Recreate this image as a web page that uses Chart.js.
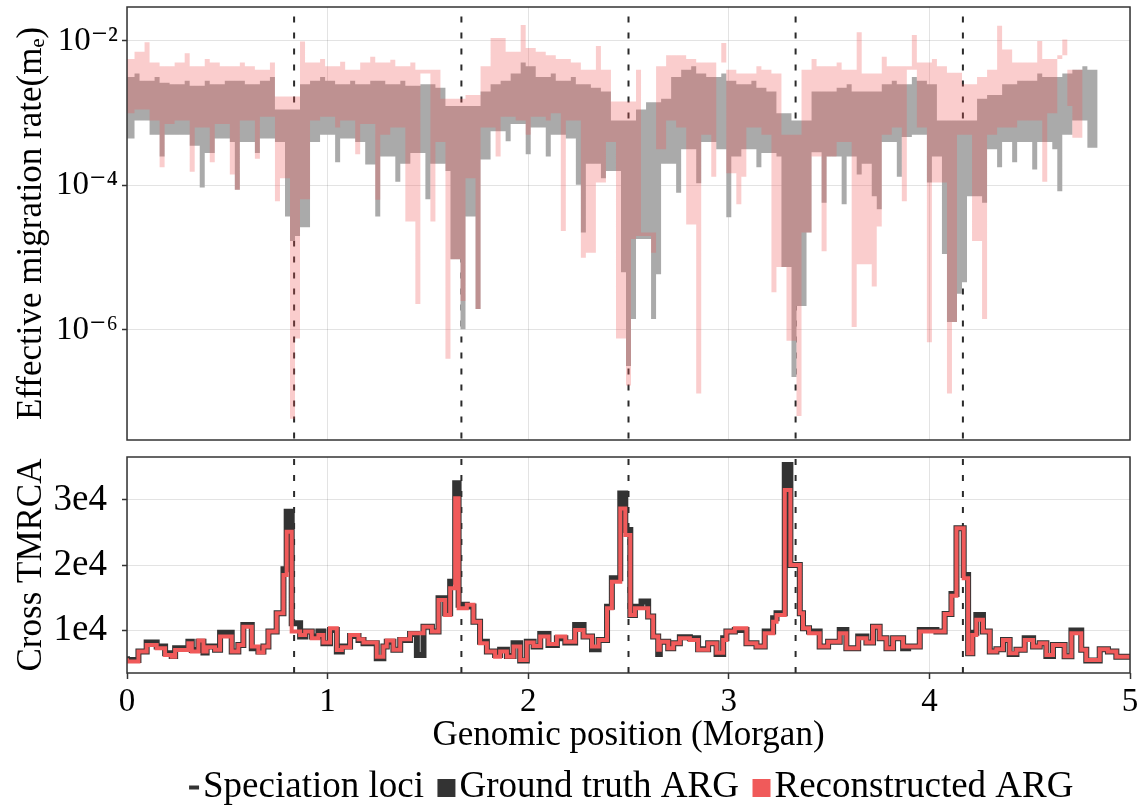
<!DOCTYPE html>
<html>
<head>
<meta charset="utf-8">
<script src="https://cdn.jsdelivr.net/npm/chart.js@4.4.1/dist/chart.umd.min.js"></script>
<style>
  html, body { margin: 0; padding: 0; background: #fff; overflow: hidden; }
  #wrap { position: relative; width: 1138px; height: 806px; }
  canvas { position: absolute; left: 0; }
  #top { top: 0; }
  #bottom { top: 445px; }
</style>
</head>
<body>
<div id="wrap">
  <canvas id="top" width="1138" height="445"></canvas>
  <canvas id="bottom" width="1138" height="371"></canvas>
</div>
<script>
// speciation loci (Morgan)
const loci = [0.833, 1.667, 2.5, 3.333, 4.167];

// effective migration rate, log10, one value every 0.025 Morgan starting at 0
const mStep = 0.025;
const truthLog10 = [
  -2.50,-3.35,-2.45,-3.10,-2.55,-3.30,-2.50,-3.60,-2.58,-3.30,
  -2.60,-3.30,-2.55,-3.45,-2.62,-4.03,-2.55,-3.55,-2.60,-3.35,
  -2.55,-3.40,-4.06,-2.55,-3.40,-2.60,-3.55,-2.55,-3.35,-2.50,
  -3.40,-2.95,-4.43,-4.77,-4.70,-2.60,-4.58,-2.55,-3.40,-2.50,
  -3.30,-2.55,-3.68,-2.60,-3.35,-2.55,-3.40,-2.60,-3.71,-2.55,
  -4.43,-2.55,-3.60,-2.60,-3.95,-2.55,-3.70,-2.62,-3.55,-2.60,
  -4.19,-2.60,-3.70,-2.65,-3.80,-5.02,-2.90,-5.99,-2.90,-4.43,
  -5.71,-2.70,-3.64,-2.60,-3.25,-2.55,-3.39,-2.45,-3.15,-2.30,
  -3.57,-2.35,-3.20,-2.50,-3.60,-2.45,-3.30,-2.55,-3.35,-2.50,
  -3.99,-4.65,-2.60,-3.70,-2.65,-3.90,-2.70,-3.80,-3.10,-5.20,
  -6.50,-5.85,-2.95,-4.74,-2.85,-5.85,-5.23,-2.80,-3.70,-2.50,
  -4.10,-2.40,-3.50,-2.35,-3.97,-2.45,-3.40,-2.50,-3.50,-2.45,
  -4.44,-2.55,-3.60,-2.60,-3.50,-2.55,-3.75,-2.65,-3.55,-2.70,
  -3.60,-5.13,-3.00,-6.65,-3.10,-5.67,-4.65,-2.70,-3.54,-4.24,
  -2.70,-3.60,-2.65,-4.26,-2.60,-3.60,-3.85,-2.70,-3.70,-4.15,
  -4.33,-2.60,-3.40,-2.55,-3.88,-2.60,-3.33,-2.50,-3.30,-2.55,
  -3.96,-2.60,-3.60,-4.95,-5.89,-5.89,-5.50,-5.34,-3.10,-4.15,
  -2.80,-4.24,-2.75,-3.50,-3.75,-2.60,-3.40,-3.68,-2.55,-3.40,
  -2.55,-3.78,-2.45,-3.40,-2.50,-3.50,-4.08,-2.45,-3.30,-2.40,
  -3.10,-2.35,-3.48,-2.40
];
const reconLog10 = [
  -2.25,-3.00,-2.15,-2.95,-2.02,-3.10,-2.30,-3.75,-2.35,-3.15,
  -2.30,-3.10,-2.17,-3.81,-2.35,-3.20,-2.25,-3.68,-2.30,-3.15,
  -2.35,-3.85,-4.06,-2.30,-3.10,-2.35,-3.63,-2.40,-3.05,-2.30,
  -4.22,-2.77,-3.90,-7.23,-6.12,-2.01,-4.19,-2.30,-3.10,-2.25,
  -3.05,-2.35,-3.20,-2.29,-3.10,-2.40,-3.57,-2.30,-3.15,-2.22,
  -4.20,-2.30,-3.30,-2.26,-3.20,-2.35,-4.50,-2.30,-5.64,-2.40,
  -2.45,-4.50,-2.40,-3.40,-6.40,-5.02,-2.80,-5.60,-2.75,-3.90,
  -5.71,-2.35,-3.20,-1.96,-3.60,-1.96,-3.05,-2.15,-3.10,-1.78,
  -3.30,-2.10,-3.05,-2.15,-3.10,-2.20,-3.00,-4.63,-2.25,-3.10,
  -2.30,-5.00,-2.40,-4.93,-2.07,-3.96,-2.40,-3.40,-6.12,-2.84,
  -6.77,-4.74,-2.40,-4.70,-4.65,-4.93,-2.35,-3.50,-2.20,-3.10,
  -3.20,-2.20,-4.54,-2.25,-6.88,-2.30,-3.30,-3.88,-2.30,-2.03,
  -3.83,-2.40,-4.26,-3.88,-2.45,-3.20,-2.35,-3.30,-2.40,-5.48,
  -2.45,-5.13,-6.15,-3.30,-7.19,-2.40,-4.65,-2.25,-3.60,-4.91,
  -2.35,-3.60,-2.30,-3.40,-2.40,-5.96,-1.88,-5.09,-2.45,-5.40,
  -4.57,-2.22,-3.30,-2.35,-3.20,-4.22,-2.40,-1.92,-3.20,-2.30,
  -6.17,-2.25,-3.96,-2.35,-6.88,-5.89,-2.44,-3.30,-2.60,-4.77,
  -2.50,-5.85,-2.40,-3.30,-1.79,-3.20,-2.12,-3.20,-2.30,-3.10,
  -2.30,-3.10,-2.00,-3.95,-2.25,-3.00,-2.20,-1.98,-2.90,-3.34,
  -2.40
];

// cross TMRCA: left edge of each step (Morgan) and the step values
const tmrcaEdges = [
  0.000,0.057,0.098,0.148,0.190,0.223,0.240,0.306,0.323,0.356,
  0.381,0.397,0.439,0.464,0.522,0.555,0.580,0.622,0.655,0.680,
  0.705,0.746,0.780,0.796,0.821,0.863,0.888,0.921,0.954,0.979,
  1.012,1.046,1.071,1.112,1.154,1.179,1.245,1.278,1.295,1.328,
  1.362,1.411,1.445,1.478,1.520,1.553,1.586,1.611,1.636,1.653,
  1.694,1.727,1.760,1.794,1.835,1.860,1.894,1.927,1.960,1.993,
  2.027,2.060,2.101,2.143,2.185,2.234,2.276,2.318,2.351,2.393,
  2.417,2.459,2.484,2.509,2.532,2.565,2.598,2.623,2.648,2.656,
  2.698,2.723,2.756,2.806,2.847,2.897,2.939,2.972,2.988,3.030,
  3.088,3.138,3.179,3.221,3.238,3.279,3.307,3.354,3.370,3.400,
  3.453,3.495,3.553,3.586,3.645,3.686,3.719,3.752,3.786,3.819,
  3.869,3.894,3.952,4.035,4.076,4.110,4.135,4.171,4.193,4.214,
  4.234,4.267,4.301,4.334,4.367,4.400,4.434,4.475,4.517,4.550,
  4.583,4.616,4.674,4.708,4.757,4.782,4.849,4.890,4.932,4.982
];
const tmrcaTruth = [
  6000,5450,6730,8110,7500,6470,6070,7240,8260,6990,
  8260,6580,7500,7000,9640,6730,7750,10800,7240,6730,
  7500,9800,12600,19350,28200,11070,9030,9800,9030,9800,
  8000,10050,6730,7500,9130,8520,8000,5700,7500,8260,
  7000,8520,9440,6200,10560,9800,14900,12600,17460,32540,
  13900,13650,11300,8260,6730,6220,7000,6070,8000,5350,
  8260,7500,9440,7750,8770,8110,10800,9030,7100,8520,
  13630,17970,31000,25380,12350,13630,14400,12100,9030,6370,
  8260,7240,8000,8930,8770,7090,8000,6370,8770,9800,
  10050,8000,7500,9800,11840,12600,35350,20000,12600,10300,
  9800,7500,8260,10050,7240,9030,8110,10560,8770,7240,
  8770,7240,7500,10050,9800,12500,15570,25640,18480,6470,
  9640,12350,9800,6730,7090,8520,6370,7000,8770,7500,
  8000,6070,7750,6000,9950,7000,5350,7090,6730,5960
];
const tmrcaRecon = [
  5700,5200,6730,7750,7240,6220,5960,6980,8000,6730,
  8420,6730,7400,7000,9030,6730,7750,10560,7500,6580,
  7500,9800,12600,18480,25100,9800,9290,9800,8770,9290,
  8110,10300,6990,7400,9290,8620,8110,5960,7500,8420,
  7000,8620,9540,9540,10560,9800,14640,12350,16440,30240,
  13380,13900,11300,8000,6730,5960,6730,5960,7500,5450,
  8110,7600,9030,7900,9030,8260,10050,9030,7500,8520,
  13380,17460,28700,24600,12350,13380,13380,12100,9030,7000,
  8260,7240,8000,8770,8520,7000,8000,6570,8520,9800,
  10300,8000,7500,9540,11300,12350,31500,20000,12600,10300,
  9540,7500,8260,9540,7240,8770,8110,10560,8770,7240,
  8770,7500,7500,9800,9800,12500,15300,25640,17970,6470,
  9290,11600,9800,6730,7090,8520,6470,7000,8520,7500,
  8000,6200,7750,6000,9540,7000,5450,7090,6730,5960
];

const rateTicks = [1e-6, 1e-4, 1e-2];
const rateRange = [Math.pow(10, -7.503), Math.pow(10, -1.531)];
const tmrcaTicks = [10000, 20000, 30000];
const tmrcaRange = [3450, 36580];
const posRange = [0, 5];

const FONT = "'Liberation Serif', 'DejaVu Serif', serif";
const GRID = 'rgba(0,0,0,0.11)';
const AXIS = '#333333';
const RED = '#f05a5a';

Chart.defaults.font.family = FONT;
Chart.defaults.color = '#000';

const sup = {'-': '\u207B', '0': '\u2070', '1': '\u00B9', '2': '\u00B2', '3': '\u00B3',
  '4': '\u2074', '5': '\u2075', '6': '\u2076', '7': '\u2077', '8': '\u2078', '9': '\u2079'};
const powerLabel = v => '10' + String(Math.round(Math.log10(v))).split('').map(c => sup[c]).join('');

// the rate series is very dense, so each sample is drawn as its own vertical stroke:
// a local peak reaches down to its higher neighbour, any other sample reaches up
// to the lower of the nearest peaks on either side (null gaps split the strokes)
function columnPoints(vals) {
  const n = vals.length;
  const peak = vals.map((v, i) => (i === 0 || v >= vals[i - 1]) && (i === n - 1 || v >= vals[i + 1]));
  const pts = [];
  vals.forEach((v, i) => {
    let lo, hi;
    if (peak[i]) {
      const nb = [vals[i - 1], vals[i + 1]].filter(x => x !== undefined);
      lo = Math.max(...nb); hi = v;
    } else {
      let l = i - 1; while (l >= 0 && !peak[l]) l--;
      let r = i + 1; while (r < n && !peak[r]) r++;
      const tops = [];
      if (l >= 0) tops.push(vals[l]);
      if (r < n) tops.push(vals[r]);
      lo = v; hi = Math.min(...tops);
    }
    const x = +(i * mStep).toFixed(4);
    pts.push({x: x, y: Math.pow(10, lo)}, {x: x, y: Math.pow(10, hi)}, {x: x, y: null});
  });
  return pts;
}
const stepPoints = vals => tmrcaEdges.map((x, i) => ({x: x, y: vals[i]}))
  .concat([{x: posRange[1], y: vals[vals.length - 1]}]);
const lociPoints = (lo, hi) => loci.flatMap(x => [{x: x, y: lo}, {x: x, y: hi}, {x: x, y: null}]);

// box around the plot area
const frame = {
  id: 'frame',
  afterDatasetsDraw(chart) {
    const {ctx, chartArea: a} = chart;
    ctx.save();
    ctx.strokeStyle = AXIS;
    ctx.lineWidth = 1.5;
    ctx.strokeRect(a.left, a.top, a.right - a.left, a.bottom - a.top);
    ctx.restore();
  }
};

function legendMark(color, w, h) {
  const c = document.createElement('canvas');
  c.width = 40; c.height = 18;
  const g = c.getContext('2d');
  g.fillStyle = color;
  g.fillRect(35 - w, (18 - h) / 2, w, h);
  return c;
}

const noPadY = s => { s.width = 127; s.paddingTop = 0; s.paddingBottom = 0; };

const lociStyle = {
  borderColor: '#2a2a2a', borderWidth: 2, borderDash: [6, 10],
  pointRadius: 0, spanGaps: false, order: 3
};

new Chart(document.getElementById('top'), {
  type: 'line',
  data: {
    datasets: [
      Object.assign({label: 'Speciation loci', data: lociPoints(rateRange[0], rateRange[1])}, lociStyle),
      {
        label: 'Ground truth ARG', data: columnPoints(truthLog10),
        borderColor: '#aaaaaa', borderWidth: 5, spanGaps: false,
        pointRadius: 0, tension: 0, clip: 0, order: 2
      },
      {
        label: 'Reconstructed ARG', data: columnPoints(reconLog10),
        borderColor: 'rgba(240,90,90,0.3)', borderWidth: 5, spanGaps: false,
        pointRadius: 0, tension: 0, clip: 0, order: 1
      }
    ]
  },
  options: {
    responsive: false, animation: false, events: [], devicePixelRatio: 1,
    layout: {padding: {left: 0, right: 8, top: 7, bottom: 5}},
    plugins: {legend: {display: false}, tooltip: {enabled: false}},
    scales: {
      x: {
        type: 'linear', min: posRange[0], max: posRange[1],
        ticks: {display: false, stepSize: 1},
        grid: {color: GRID, drawTicks: false},
        border: {display: false},
        afterFit: s => { s.height = 0; s.paddingLeft = 0; s.paddingRight = 0; }
      },
      y: {
        type: 'logarithmic', min: rateRange[0], max: rateRange[1],
        afterBuildTicks: s => { s.ticks = rateTicks.map(v => ({value: v})); },
        ticks: {font: {size: 33}, color: '#000', padding: 4, callback: v => powerLabel(v)},
        grid: {color: GRID, tickColor: AXIS, tickLength: 5, tickWidth: 1.5},
        border: {display: false},
        title: {
          display: true, text: 'Effective migration rate(m\u2091)', color: '#000',
          font: {size: 35, lineHeight: 1}, padding: {top: 14, bottom: 0}
        },
        afterFit: noPadY
      }
    }
  },
  plugins: [frame]
});

new Chart(document.getElementById('bottom'), {
  type: 'line',
  data: {
    datasets: [
      Object.assign({label: 'Speciation loci', data: lociPoints(tmrcaRange[0], tmrcaRange[1])}, lociStyle),
      {
        label: 'Ground truth ARG', data: stepPoints(tmrcaTruth), stepped: 'after',
        borderColor: AXIS, borderWidth: 6, pointRadius: 0, order: 2
      },
      {
        label: 'Reconstructed ARG', data: stepPoints(tmrcaRecon), stepped: 'after',
        borderColor: RED, borderWidth: 4, pointRadius: 0, order: 1
      }
    ]
  },
  options: {
    responsive: false, animation: false, events: [], devicePixelRatio: 1,
    layout: {padding: {left: 0, right: 8, top: 12, bottom: 0}},
    plugins: {
      tooltip: {enabled: false},
      legend: {
        position: 'bottom', fullSize: false,
        labels: {
          usePointStyle: true, pointStyleWidth: 1, padding: 16,
          font: {size: 37}, color: '#000',
          generateLabels: () => [
            {text: 'Speciation loci', pointStyle: legendMark(AXIS, 10, 4), lineWidth: 0, hidden: false},
            {text: 'Ground truth ARG', pointStyle: legendMark(AXIS, 18, 18), lineWidth: 0, hidden: false},
            {text: 'Reconstructed ARG', pointStyle: legendMark(RED, 18, 18), lineWidth: 0, hidden: false}
          ]
        }
      }
    },
    scales: {
      x: {
        type: 'linear', min: posRange[0], max: posRange[1],
        ticks: {stepSize: 1, font: {size: 33}, color: '#000', padding: 4, callback: v => String(v)},
        grid: {color: GRID, tickColor: AXIS, tickLength: 6, tickWidth: 1.5},
        border: {display: false},
        title: {
          display: true, text: 'Genomic position (Morgan)', color: '#000',
          font: {size: 35, lineHeight: 1}, padding: {top: 0, bottom: 0}
        },
        afterFit: s => { s.height = 80; s.paddingLeft = 0; s.paddingRight = 0; }
      },
      y: {
        type: 'linear', min: tmrcaRange[0], max: tmrcaRange[1],
        afterBuildTicks: s => { s.ticks = tmrcaTicks.map(v => ({value: v})); },
        ticks: {font: {size: 37}, color: '#000', padding: 15, callback: v => (v / 10000) + 'e4'},
        grid: {color: GRID, tickColor: AXIS, tickLength: 5, tickWidth: 1.5},
        border: {display: false},
        title: {
          display: true, text: 'Cross TMRCA', color: '#000',
          font: {size: 35, lineHeight: 1}, padding: {top: 14, bottom: 0}
        },
        afterFit: noPadY
      }
    }
  },
  plugins: [frame]
});
</script>
</body>
</html>
